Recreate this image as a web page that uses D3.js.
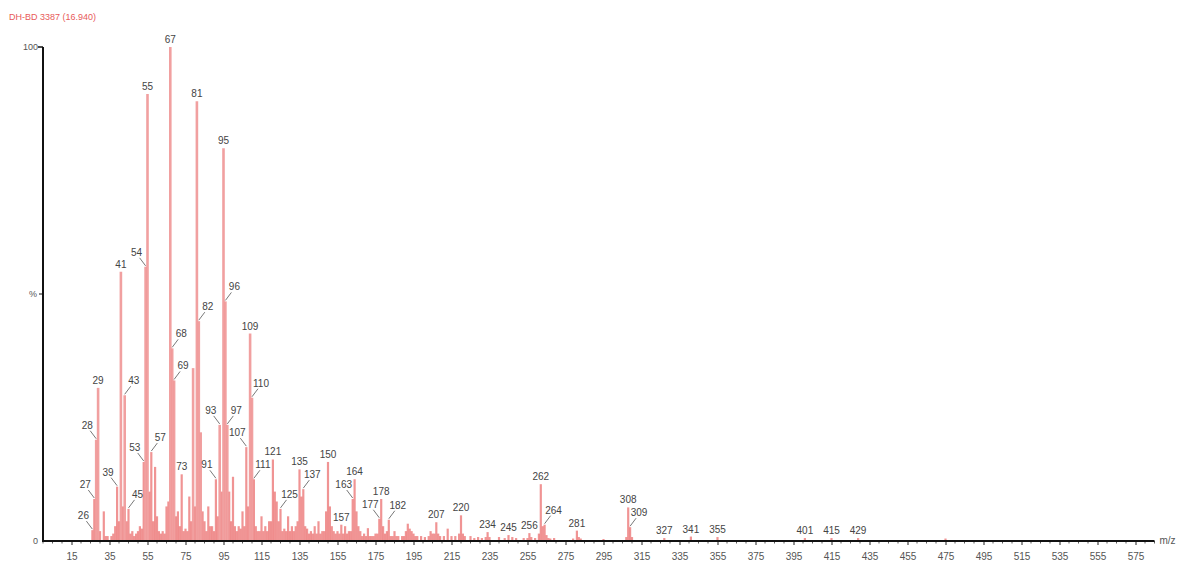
<!DOCTYPE html>
<html><head><meta charset="utf-8">
<script src="https://cdn.jsdelivr.net/npm/d3@7/dist/d3.min.js"></script>
<style>body{margin:0;background:#fff}svg{display:block}text{font-family:"Liberation Sans",Arial,sans-serif}</style>
</head><body><svg id="c" width="1184" height="562"></svg>
<script>
const title = "DH-BD 3387 (16.940)";
// labelled peaks (m/z, relative intensity %)
const labelledMz = [26,27,28,29,39,41,43,45,53,54,55,57,67,68,69,73,81,82,91,93,95,96,97,107,109,110,111,121,125,135,137,150,157,163,164,177,178,182,207,220,234,245,256,262,264,281,308,309,327,341,355,401,415,429];
const labelledInt = [2.2,8.5,20.5,31,11,54.5,29.5,6.5,16,55.5,90.5,18,100,39,32.5,13.5,89,44.5,12.5,23.5,79.5,48.5,23.5,19,42,29,12.5,16.5,6.5,14.5,10.5,16,3.3,8.5,12.5,4.5,8.5,4.3,3.8,5.2,1.8,1.2,1.6,11.5,3.3,2.1,6.8,2.8,0.6,0.9,0.8,0.6,0.6,0.6];
// unlabelled peaks
const otherMz = [30,32,33,34,36,37,38,40,42,44,46,47,48,49,50,51,52,56,58,59,60,61,62,63,64,65,66,70,71,72,74,75,76,77,78,79,80,83,84,85,86,87,88,89,90,92,94,98,99,100,101,102,103,104,105,106,108,112,113,114,115,116,117,118,119,120,122,123,124,126,127,128,129,130,131,132,133,134,136,138,139,140,141,142,143,144,145,146,147,148,149,151,152,153,154,155,156,158,159,160,161,162,165,166,167,168,169,170,171,172,173,174,175,176,179,180,181,183,184,185,186,187,189,190,191,192,193,194,195,196,197,199,201,203,204,205,206,208,209,211,213,215,217,219,221,222,225,227,229,231,233,235,240,243,247,249,253,255,257,259,261,263,265,266,267,269,279,282,283,295,307,310,475];
const otherInt = [2,6,1,1,1,1.5,3,4,7,4,1.5,2,1,1.5,2,3,2.5,10,4,15,5,2,1.5,2,1.5,7,8,5,6,3,2,2.5,2,9,4,35,7,22,6,4,2,7,3,3,2,5,10,10,4,13,3,2,3,2.5,6,3,7,3,2,2,5,2,3,2,4,4,10,8,4,2,2.5,2,5,2,3,2,3,4,9,3,2.5,1.5,2,1.5,3,1.5,4,1.5,2,2,6,7,3,2,1.5,2,1.5,1.5,3,1.5,2,2,6,3,2,1,1.5,1,2.6,1,1,1,1.5,1.5,3,1.5,2,1,1,2,1,1,1,1,2,3.5,2.5,2,1.5,1,1,1,0.8,1,2,1.5,1.5,1.5,1,1,2.5,1,1,1.5,1.5,1,1,0.6,0.8,0.6,0.8,0.8,0.8,0.6,0.8,0.6,0.6,0.6,0.8,0.6,1.5,3,1.2,0.6,0.5,0.6,0.5,0.8,0.5,0.4,0.8,0.8,0.5];
const xTicks = d3.range(15, 576, 20);
const yTickLabels = ["0", "%", "100"];
// label layout: c = centred above, l = up-left with leader, r = up-right with leader
const labelLayout = {26:"l",27:"l",28:"l",39:"l",43:"r",45:"r",53:"l",54:"l",57:"r",68:"r",69:"r",82:"r",91:"l",93:"l",96:"r",97:"r",107:"l",110:"r",111:"r",125:"r",137:"r",163:"l",177:"l",182:"r",264:"r",309:"r"};

const svg = d3.select("#c");
const x = d3.scaleLinear().domain([15, 575]).range([71.5, 1135.5]);
const y = d3.scaleLinear().domain([0, 100]).range([541, 47]);

svg.append("text").attr("x", 9).attr("y", 20).attr("fill", "#e85a5a").attr("font-size", 9).text(title);

const peaks = otherMz.map((m, i) => ({m, v: otherInt[i]}))
  .concat(labelledMz.map((m, i) => ({m, v: labelledInt[i], lab: true})));
peaks.sort((a, b) => a.v - b.v);
svg.append("g").selectAll("line").data(peaks).join("line")
  .attr("x1", d => x(d.m)).attr("x2", d => x(d.m))
  .attr("y1", y(0)).attr("y2", d => y(d.v))
  .attr("stroke", d => d.v > 20 ? "#f09696" : "#eb7070")
  .attr("stroke-width", d => d.v > 20 ? 2.6 : 2.2)
  .attr("stroke-opacity", d => d.v > 20 ? 0.9 : 0.75);

// peak labels
const lg = svg.append("g").attr("font-size", 10).attr("fill", "#444");
labelledMz.forEach((m, i) => {
  const px = x(m), py = y(labelledInt[i]);
  const side = labelLayout[m] || "c";
  if (side === "c") {
    lg.append("text").attr("x", px).attr("y", py - 4).attr("text-anchor", "middle").text(m);
  } else {
    const s = side === "l" ? -1 : 1;
    lg.append("line").attr("x1", px).attr("y1", py - 1).attr("x2", px + s * 6).attr("y2", py - 9)
      .attr("stroke", "#555").attr("stroke-width", 0.8);
    lg.append("text").attr("x", px + s * 9).attr("y", py - 11).attr("text-anchor", "middle").text(m);
  }
});

// x axis
const xAxis = d3.axisBottom(x).tickValues(xTicks).tickSize(4).tickFormat(d3.format("d"));
const gx = svg.append("g").attr("transform", `translate(0,${y(0)})`).call(xAxis);
gx.select(".domain").remove();
gx.selectAll(".tick line").attr("stroke", "#222");
gx.selectAll(".tick text").attr("font-size", 10).attr("fill", "#555").attr("dy", "1.15em")
  .attr("font-family", "Liberation Sans, Arial, sans-serif");
const minor = d3.range(0, 586, 5).filter(v => !xTicks.includes(v));
svg.append("g").selectAll("line").data(minor).join("line")
  .attr("x1", d => x(d)).attr("x2", d => x(d)).attr("y1", y(0)).attr("y2", y(0) + 2.5)
  .attr("stroke", "#333").attr("stroke-width", 0.8);
svg.append("line").attr("x1", x(0) - 1).attr("x2", x(585)).attr("y1", y(0)).attr("y2", y(0))
  .attr("stroke", "#111").attr("stroke-width", 2);
svg.append("text").attr("x", x(585) + 5).attr("y", y(0) + 3).attr("font-size", 10).attr("fill", "#555").text("m/z");

// y axis
svg.append("line").attr("x1", x(0)).attr("x2", x(0)).attr("y1", y(100)).attr("y2", y(0))
  .attr("stroke", "#111").attr("stroke-width", 2);
svg.append("line").attr("x1", x(0) - 5).attr("x2", x(0)).attr("y1", y(100)).attr("y2", y(100))
  .attr("stroke", "#111").attr("stroke-width", 1.5);
svg.append("line").attr("x1", x(0) - 4).attr("x2", x(0)).attr("y1", y(50)).attr("y2", y(50))
  .attr("stroke", "#111").attr("stroke-width", 1);
const yg = svg.append("g").attr("font-size", 9).attr("fill", "#555").attr("text-anchor", "end");
[0, 50, 100].forEach((v, i) => {
  yg.append("text").attr("x", x(0) - (v === 50 ? 6 : 5)).attr("y", y(v) + 3).text(yTickLabels[i]);
});
</script></body></html>
